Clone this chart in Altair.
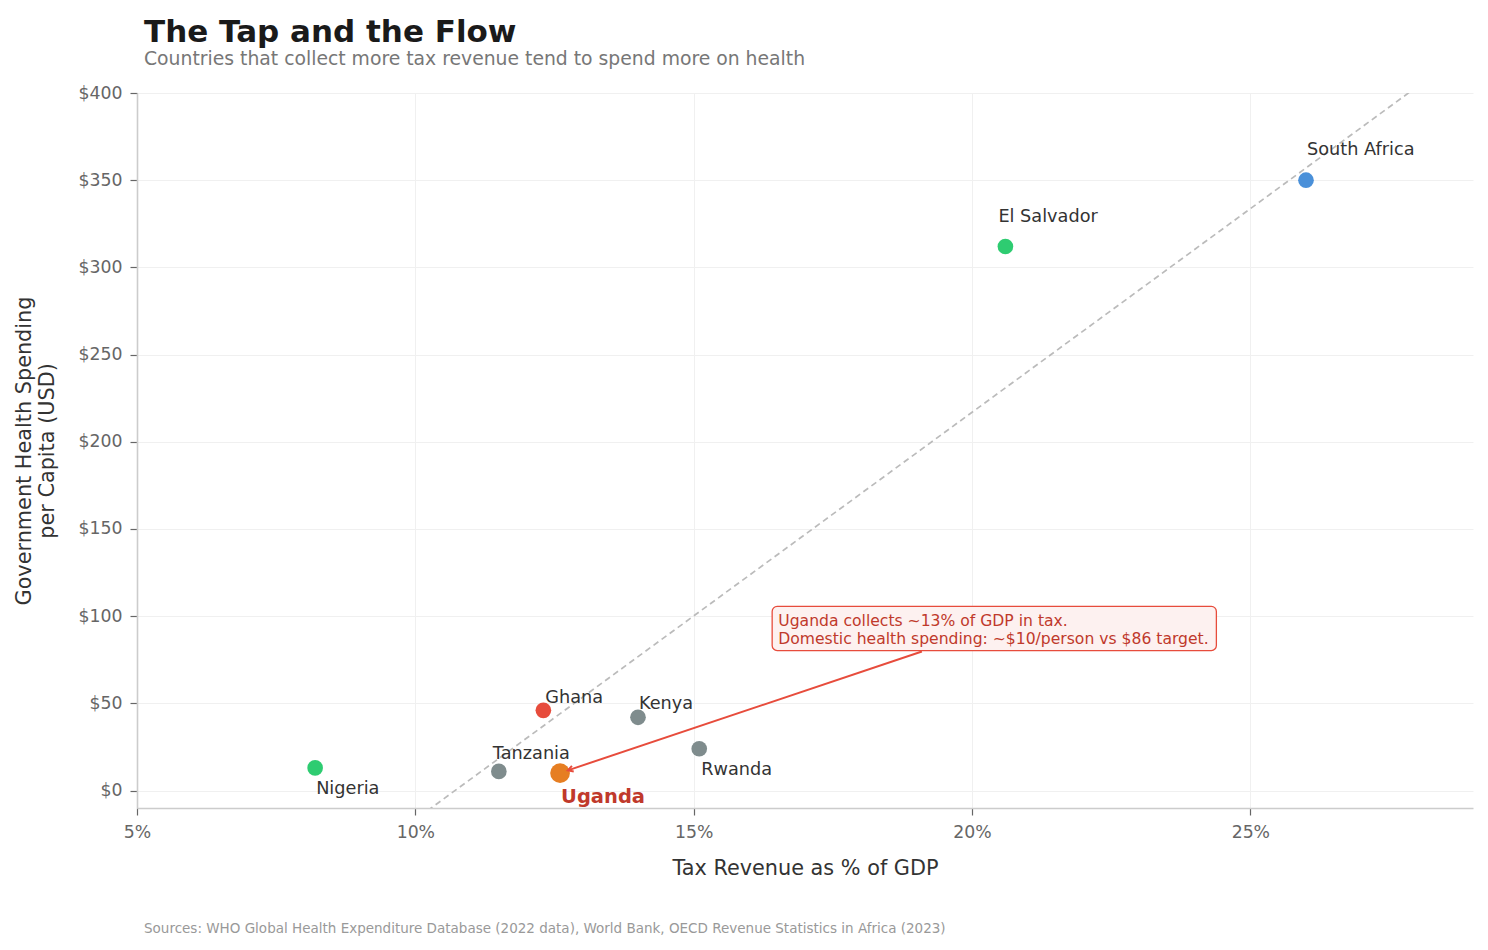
import altair as alt
import pandas as pd

# ---- data ----
countries = ["South Africa", "El Salvador", "Ghana", "Kenya", "Rwanda", "Tanzania", "Uganda", "Nigeria"]
tax_pct = [26.0, 20.6, 12.3, 14.0, 15.1, 11.5, 12.6, 8.2]
health_usd = [350, 312, 46, 42, 24, 11, 10, 13]

# styles (kept apart from the data)
point_colors = ["#4a90d9", "#2ecc71", "#e74c3c", "#7f8c8d", "#7f8c8d", "#7f8c8d", "#e67e22", "#2ecc71"]
label_dx = [1, -7, 2, 1, 2, -6, 1, 1]
label_dy = [-30, -29, -12, -13, 21, -17, 24, 21]

# annotation (data coordinates)
note_lines = ["Uganda collects ~13% of GDP in tax.",
              "Domestic health spending: ~$10/person vs $86 target."]
note_x = [16.52, 16.52]
note_y = [97.3, 86.9]
box_x, box_x2, box_y, box_y2 = [16.41], [24.39], [80.3], [105.6]
arrow_from = [19.1, 79.7]
arrow_to = [12.74, 11.6]

FONT = "DejaVu Sans"

df = pd.DataFrame({"country": countries, "x": tax_pct, "y": health_usd})

xscale = alt.Scale(domain=[5, 29], nice=False, zero=False)
yscale = alt.Scale(domain=[-10, 400], nice=False, zero=False)

xaxis = alt.Axis(values=[5, 10, 15, 20, 25], labelExpr="datum.value + '%'",
                 title="Tax Revenue as % of GDP", grid=True, labelFlush=False)
yaxis = alt.Axis(values=[0, 50, 100, 150, 200, 250, 300, 350, 400],
                 labelExpr="'$' + datum.value", labelFlush=False,
                 title=["Government Health Spending", "per Capita (USD)"], grid=True)


def X(f="x"):
    return alt.X(f"{f}:Q", scale=xscale, axis=xaxis)


def Y(f="y"):
    return alt.Y(f"{f}:Q", scale=yscale, axis=yaxis)


base = alt.Chart(df)

trend = base.transform_regression("x", "y", extent=[5, 29]).mark_line(
    color="#bbbbbb", strokeDash=[6, 4], strokeWidth=1.7, clip=True
).encode(x=X(), y=Y())

arrow_df = pd.DataFrame({"x": [arrow_from[0]], "y": [arrow_from[1]],
                         "x2": [arrow_to[0]], "y2": [arrow_to[1]]})
arrow_line = alt.Chart(arrow_df).mark_rule(color="#e74c3c", strokeWidth=2).encode(
    x=X(), x2="x2:Q", y=Y(), y2="y2:Q",
)

points = base.mark_circle(opacity=1).encode(
    x=X(), y=Y(),
    color=alt.Color("country:N", scale=alt.Scale(domain=countries, range=point_colors), legend=None),
    size=alt.condition(alt.datum.country == "Uganda", alt.value(390), alt.value(245)),
)

label_layers = []
for i, c in enumerate(countries):
    is_ug = c == "Uganda"
    label_layers.append(
        base.transform_filter(alt.datum.country == c).mark_text(
            align="left", baseline="middle", dx=label_dx[i], dy=label_dy[i],
            font=FONT, fontSize=19.5 if is_ug else 17.7,
            fontWeight="bold" if is_ug else "normal",
            color="#c0392b" if is_ug else "#333333",
        ).encode(x=X(), y=Y(), text="country:N")
    )

arrow_head_df = pd.DataFrame({"x": [arrow_to[0]], "y": [arrow_to[1]]})
arrow_head = alt.Chart(arrow_head_df).mark_point(
    shape="M -0.55 1 L 0 0 L 0.55 1", filled=False, stroke="#e74c3c",
    strokeWidth=2, size=110, angle=251.6, opacity=1,
).encode(x=X(), y=Y())

box_df = pd.DataFrame({"x": box_x, "x2": box_x2, "y": box_y, "y2": box_y2})
box = alt.Chart(box_df).mark_rect(
    fill="#fdf1f0", stroke="#e74c3c", strokeWidth=1.3, cornerRadius=5
).encode(x=X(), x2="x2:Q", y=Y(), y2="y2:Q")

note_df = pd.DataFrame({"x": note_x, "y": note_y, "t": note_lines})
note = alt.Chart(note_df).mark_text(
    align="left", baseline="middle", font=FONT, fontSize=15.6, color="#c0392b"
).encode(x=X(), y=Y(), text="t:N")

footer = alt.Chart(pd.DataFrame({"t": ["Sources: WHO Global Health Expenditure Database (2022 data), World Bank, OECD Revenue Statistics in Africa (2023)"]})).mark_text(
    align="left", baseline="middle", font=FONT, fontSize=13.5, color="#999999"
).encode(x=alt.value(7), y=alt.value(836), text="t:N")

chart = alt.layer(
    trend, arrow_line, points, *label_layers, arrow_head, box, note, footer
).properties(
    width=1336, height=715,
    autosize=alt.AutoSizeParams(type="none"),
    padding={"left": 129, "top": 85, "right": 5, "bottom": 128},
    title=alt.TitleParams(
        text="The Tap and the Flow",
        subtitle="Countries that collect more tax revenue tend to spend more on health",
        anchor="start", frame="group", dx=7, offset=14,
        font=FONT, fontSize=31, fontWeight="bold", color="#1a1a1a",
        subtitleFont=FONT, subtitleFontSize=18.8, subtitleColor="#777777", subtitlePadding=1,
    ),
).configure_view(stroke=None).configure_axis(
    labelFont=FONT, titleFont=FONT, labelFontSize=17.3, titleFontSize=20.8,
    labelColor="#666666", titleColor="#333333", titleFontWeight="normal",
    domainColor="#cccccc", domainWidth=1.6, tickColor="#666666", tickSize=7, tickWidth=1.2,
    gridColor="#f0f0f0", gridWidth=1,
).configure_axisX(labelPadding=8, titlePadding=18).configure_axisY(
    labelPadding=8, titlePadding=21
)

chart.save("out.html", embed_options={"renderer": "svg", "actions": False})
